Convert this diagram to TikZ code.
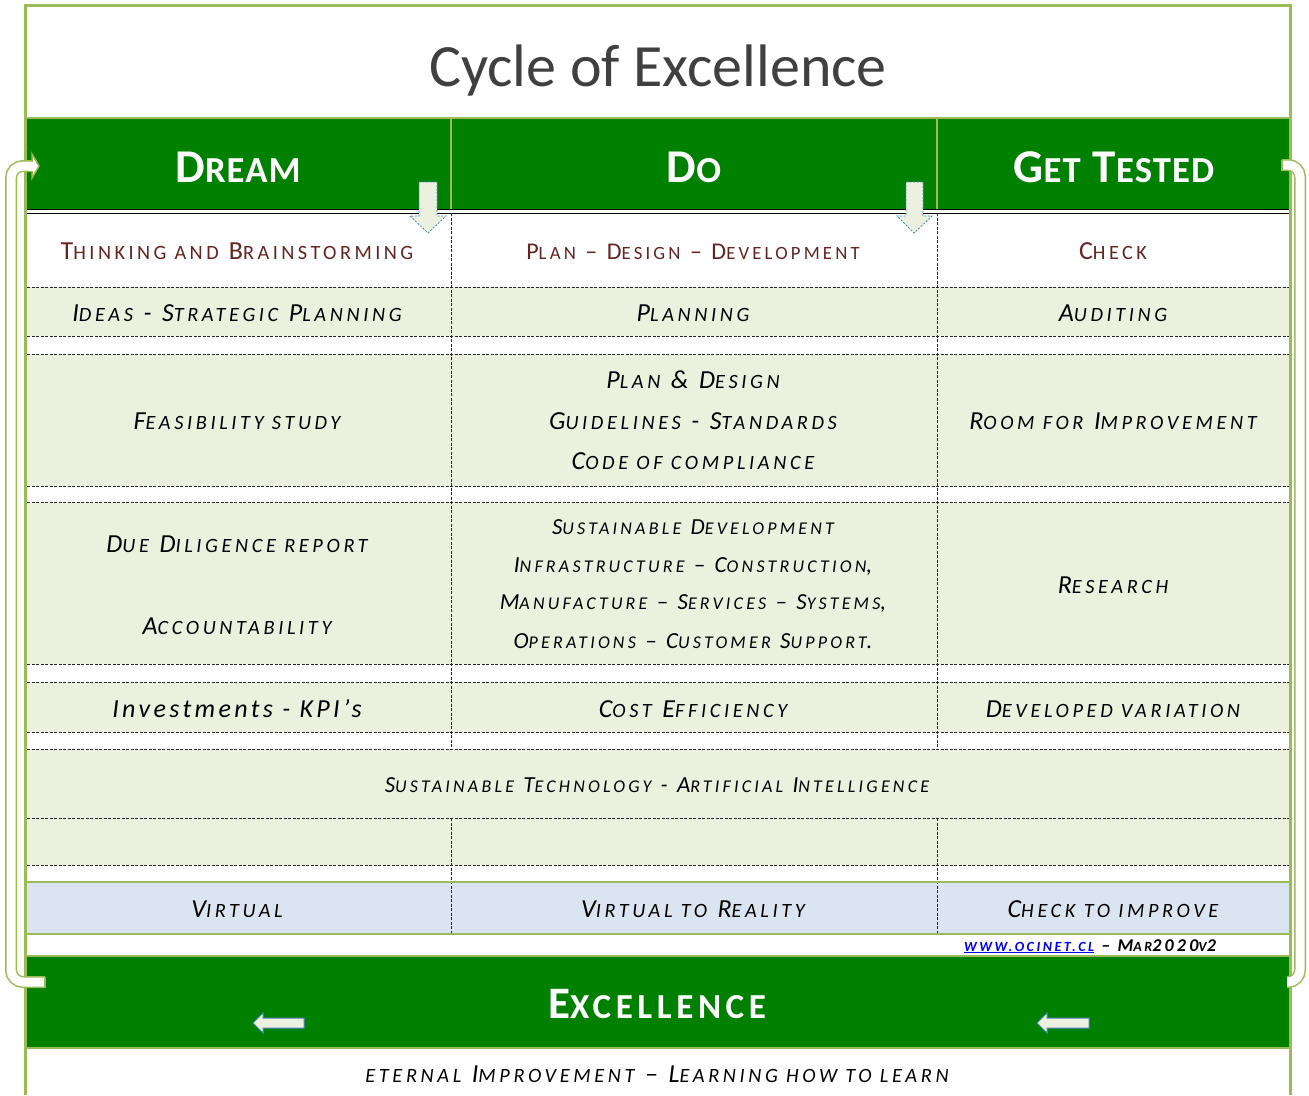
\documentclass[tikz,border=0pt]{standalone}
\usepackage{fontspec}
\setmainfont{Carlito}
\newfontfamily\lsA[LetterSpace=18]{Carlito}
\newfontfamily\lsB[LetterSpace=17]{Carlito}
\newfontfamily\lsH[LetterSpace=3]{Carlito}
\newfontfamily\lsE[LetterSpace=13]{Carlito}
\definecolor{hdr}{RGB}{0,128,0}
\definecolor{lg}{RGB}{155,187,89}
\definecolor{pale}{RGB}{235,241,222}
\definecolor{pblue}{RGB}{219,229,241}
\definecolor{dred}{RGB}{99,37,35}
\definecolor{tgray}{RGB}{64,64,64}
\definecolor{ablue}{RGB}{79,129,189}
\definecolor{lnk}{RGB}{0,0,230}
\makeatletter
\newcommand\s[1]{{\fontsize{\the\dimexpr\f@size pt*78/100\relax}{\the\dimexpr\f@size pt*78/100\relax}\selectfont #1}}
\makeatother
\tikzset{
  dline/.style={black!85, line width=0.9, dash pattern=on 3pt off 1.5pt},
  gline/.style={lg, line width=2.5},
  txt/.style={inner sep=0, anchor=base, font=\lsA\itshape\fontsize{26}{30}\selectfont},
  stxt/.style={inner sep=0, anchor=base, font=\lsA\itshape\fontsize{23}{27}\selectfont},
  redtxt/.style={inner sep=0, anchor=base, text=dred, font=\lsB\fontsize{26}{30}\selectfont},
  hdtxt/.style={inner sep=0, anchor=base, text=white, font=\lsH\bfseries\fontsize{47}{50}\selectfont},
  downarrow/.style={fill=pale, draw=ablue, line width=0.8, dash pattern=on 2pt off 1.5pt},
  leftarrow/.style={fill=pale, draw=ablue, line width=1},
  cyc/.style={lg, line width=1.5, double=white, double distance=9, rounded corners=12}
}
\begin{document}
\begin{tikzpicture}[x=1pt,y=-1pt]
\useasboundingbox (0,0) rectangle (1309,1095);
\fill[white] (0,0) rectangle (1309,1095);
% fills
\fill[hdr] (27,118) rectangle (1290,210);
\fill[pale] (27,287) rectangle (1290,336);
\fill[pale] (27,354) rectangle (1290,486);
\fill[pale] (27,502) rectangle (1290,664);
\fill[pale] (27,682) rectangle (1290,732);
\fill[pale] (27,749) rectangle (1290,865);
\fill[pblue] (27,882) rectangle (1290,934);
\fill[hdr] (27,956) rectangle (1290,1048);
% header lines
\draw[gline] (27,118) -- (1290,118);
\draw[lg, line width=1.5] (451,119) -- (451,209) (937,119) -- (937,209);
\draw[black, line width=1.6] (27,209.5) -- (1290,209.5);
\draw[black, line width=0.8] (27,213) -- (1290,213);
% dashed rows
\foreach \yy in {287,336,354,486,502,664,682,732,749,818,865}
  \draw[dline] (27,\yy) -- (1290,\yy);
\draw[dline] (451,213) -- (451,749) (937,213) -- (937,749);
\draw[dline] (451,818) -- (451,934) (937,818) -- (937,934);
% green separators
\draw[gline] (27,882) -- (1290,882);
\draw[gline] (27,934) -- (1290,934);
\draw[gline] (27,956) -- (1290,956);
\draw[gline] (27,1048) -- (1290,1048);
% outer border
\draw[lg, line width=3] (25,1095) -- (25,5) -- (1290,5) -- (1290,1095);
% down arrows
\draw[downarrow] (419,182) -- (437,182) -- (437,216) -- (446,216) -- (428,233) -- (410,216) -- (419,216) -- cycle;
\draw[downarrow] (906,182) -- (923,182) -- (923,216) -- (932,216) -- (914,233) -- (897,216) -- (906,216) -- cycle;
% left arrows in excellence band
\draw[leftarrow] (253,1023) -- (263,1013) -- (263,1018) -- (304,1018) -- (304,1028) -- (263,1028) -- (263,1033) -- cycle;
\draw[leftarrow] (1037,1023) -- (1047,1013) -- (1047,1018) -- (1089,1018) -- (1089,1028) -- (1047,1028) -- (1047,1033) -- cycle;
% cycle arrows
\draw[cyc] (45,982) -- (11,982) -- (11,166) -- (33,166);
\draw[lg, line width=1.5] (45,976.5) -- (45,987.5);
\filldraw[fill=white, draw=lg, line width=1.5] (32,154) -- (39,166) -- (32,178) -- cycle;
\fill[white] (30,161.5) rectangle (33.5,170.5);
\draw[cyc] (1282,165) -- (1300,165) -- (1300,982) -- (1287,982);
\draw[lg, line width=1.5] (1282,159.5) -- (1282,170.5);
% title
\node[inner sep=0, anchor=base, text=tgray, font=\fontsize{60}{66}\selectfont] (title) at (658,86) {Cycle of Excellence};
% header texts
\node[hdtxt] (hdream) at (238,182) {D\s{REAM}};
\node[hdtxt] (hdo) at (694,182) {D\s{O}};
\node[hdtxt] (htest) at (1114,182) {G\s{ET} T\s{ESTED}};
% row 1
\node[redtxt] (r1a) at (237,259) {T\s{HINKING AND} B\s{RAINSTORMING}};
\node[redtxt, font=\lsB\fontsize{24}{28}\selectfont] (r1b) at (693,259) {P\s{LAN} – D\s{ESIGN} – D\s{EVELOPMENT}};
\node[redtxt] (r1c) at (1113,259) {C\s{HECK}};
% row 2
\node[txt] (r2a) at (237,321) {I\s{DEAS} - S\s{TRATEGIC} P\s{LANNING}};
\node[txt] (r2b) at (693,321) {P\s{LANNING}};
\node[txt] (r2c) at (1113,321) {A\s{UDITING}};
% row 3
\node[txt] (r3a) at (237,429) {F\s{EASIBILITY STUDY}};
\node[txt] (r3b1) at (693,388) {P\s{LAN} \& D\s{ESIGN}};
\node[txt] (r3b2) at (693,429) {G\s{UIDELINES} - S\s{TANDARDS}};
\node[txt] (r3b3) at (693,469) {C\s{ODE OF COMPLIANCE}};
\node[txt] (r3c) at (1113,429) {R\s{OOM FOR} I\s{MPROVEMENT}};
% row 4
\node[txt] (r4a1) at (237,552) {D\s{UE} D\s{ILIGENCE REPORT}};
\node[txt] (r4a2) at (237,634) {A\s{CCOUNTABILITY}};
\node[stxt] (r4b1) at (693,534) {S\s{USTAINABLE} D\s{EVELOPMENT}};
\node[stxt] (r4b2) at (693,572) {I\s{NFRASTRUCTURE} – C\s{ONSTRUCTION},};
\node[stxt] (r4b3) at (693,609) {M\s{ANUFACTURE} – S\s{ERVICES} – S\s{YSTEMS},};
\node[stxt] (r4b4) at (693,648) {O\s{PERATIONS} – C\s{USTOMER} S\s{UPPORT}.};
\node[txt] (r4c) at (1113,593) {R\s{ESEARCH}};
% row 5
\node[txt, font=\lsE\itshape\fontsize{26}{30}\selectfont] (r5a) at (237,717) {Investments - KPI’s};
\node[txt] (r5b) at (693,717) {C\s{OST} E\s{FFICIENCY}};
\node[txt] (r5c) at (1113,717) {D\s{EVELOPED VARIATION}};
% row 6
\node[stxt] (r6) at (657,792) {S\s{USTAINABLE} T\s{ECHNOLOGY} - A\s{RTIFICIAL} I\s{NTELLIGENCE}};
% row 8
\node[txt] (r8a) at (237,917) {V\s{IRTUAL}};
\node[txt] (r8b) at (693,917) {V\s{IRTUAL TO} R\s{EALITY}};
\node[txt] (r8c) at (1113,917) {C\s{HECK TO IMPROVE}};
% website
\node[inner sep=0, anchor=base, font=\lsA\bfseries\itshape\fontsize{18}{20}\selectfont] (web) at (1090,951) {\textcolor{lnk}{\underline{\s{WWW.OCINET.CL}}} – M\s{AR}2020\s{V}2};
% excellence
\node[inner sep=0, anchor=base, text=white, font=\lsE\bfseries\fontsize{45}{50}\selectfont] (exc) at (657,1018) {E\s{XCELLENCE}};
% bottom
\node[txt] (bottom) at (657,1082) {\s{ETERNAL} I\s{MPROVEMENT} – L\s{EARNING HOW TO LEARN}};
\end{tikzpicture}
\end{document}
